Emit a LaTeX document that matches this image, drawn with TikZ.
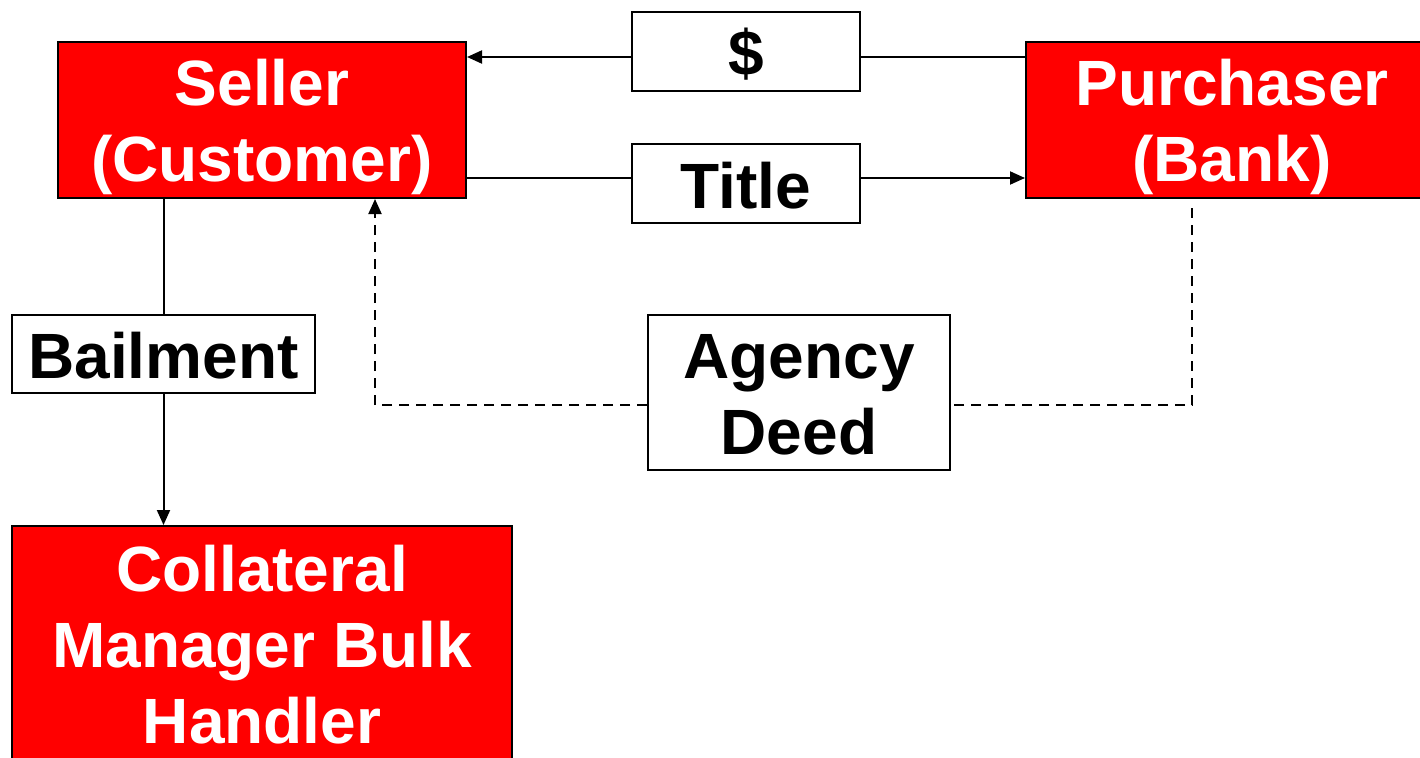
\documentclass[tikz,border=0pt]{standalone}
\usepackage{fontspec}
\setmainfont{Liberation Sans}
\usetikzlibrary{arrows.meta}
\definecolor{boxred}{HTML}{FF0000}
\tikzset{
  party/.style={draw=black, line width=2pt, fill=boxred, inner sep=0pt},
  label box/.style={draw=black, line width=2pt, fill=white, inner sep=0pt},
  boxtext/.style={inner sep=0pt, font=\fontsize{64}{76}\selectfont\bfseries, align=center},
  white text/.style={boxtext, text=white},
  black text/.style={boxtext, text=black},
  conn/.style={line width=2pt, draw=black},
  tip/.style={-{Triangle[length=15pt,width=13pt]}},
  dashline/.style={dash pattern=on 10pt off 7pt}
}
\begin{document}
\begin{tikzpicture}[x=1pt,y=-1pt]
\useasboundingbox (0,0) rectangle (1420,757);
\fill[white] (0,0) rectangle (1420,757);
% boxes
\node[party, minimum width=408pt, minimum height=156pt] (seller) at (262,120) {};
\node[party, minimum width=412pt, minimum height=156pt] (purch) at (1232,120) {};
\node[party, minimum width=500pt, minimum height=250pt] (coll) at (262,651) {};
\node[label box, minimum width=228pt, minimum height=79pt] (dollar) at (746,51.5) {};
\node[label box, minimum width=228pt, minimum height=79pt] (title) at (746,183.5) {};
\node[label box, minimum width=303pt, minimum height=78pt] (bail) at (163.5,354) {};
\node[label box, minimum width=302pt, minimum height=155pt] (agency) at (799,392.5) {};
% texts
\node[white text, yshift=-7pt] (sellerT) at (seller) {Seller\\(Customer)};
\node[white text, yshift=-7pt] (purchT) at (purch) {Purchaser\\(Bank)};
\node[white text, yshift=6pt] (collT) at (coll) {Collateral\\Manager Bulk\\Handler};
\node[black text, yshift=-3pt] (dollarT) at (dollar) {\$};
\node[black text, yshift=-2pt] (titleT) at (title) {Title};
\node[black text, yshift=-2pt] (bailT) at (bail) {Bailment};
\node[black text, yshift=-2pt] (agencyT) at (agency) {Agency\\Deed};
% helper coordinates
\coordinate (ydollar) at (0,57);
\coordinate (ytitle) at (0,178);
\coordinate (yagency) at (0,405);
\coordinate (xseller) at (375,0);
\coordinate (pstart) at (1192,208);
% connectors
\draw[conn] (purch.west |- ydollar) -- (dollar.east |- ydollar);
\draw[conn, tip] (dollar.west |- ydollar) -- (seller.east |- ydollar);
\draw[conn] (seller.east |- ytitle) -- (title.west |- ytitle);
\draw[conn, tip] (title.east |- ytitle) -- (purch.west |- ytitle);
\draw[conn] (bail.north) -- (bail.north |- seller.south);
\draw[conn, tip] (bail.south) -- (bail.south |- coll.north);
\draw[conn, dashline] (pstart) |- (agency.east |- yagency);
\draw[conn, dashline, tip] (agency.west |- yagency) -| (xseller |- seller.south);
\end{tikzpicture}
\end{document}
